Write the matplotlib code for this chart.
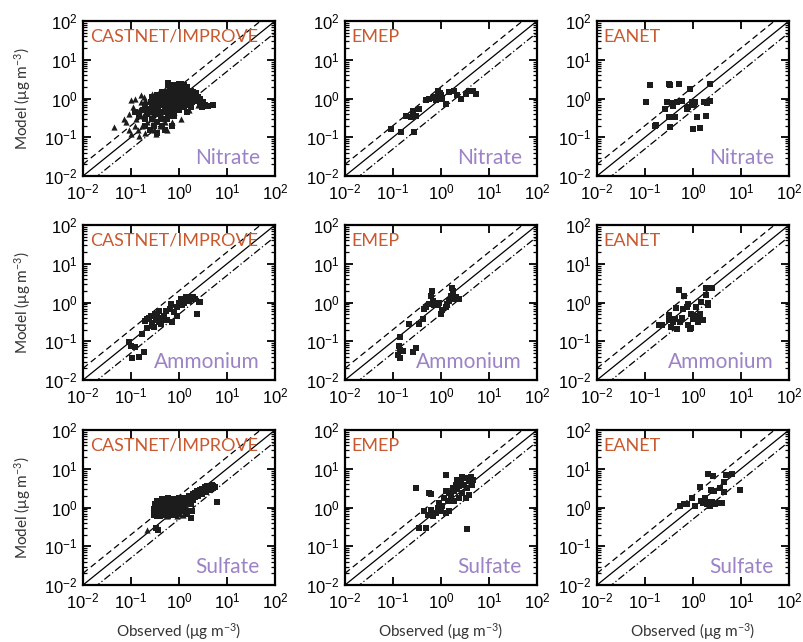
import matplotlib
matplotlib.use("Agg")
import matplotlib.pyplot as plt
import numpy as np

# ---------------- data (observed, model) in ug m-3 ----------------
NETWORKS = ["CASTNET/IMPROVE", "EMEP", "EANET"]
SPECIES = ["Nitrate", "Ammonium", "Sulfate"]

# nitrate
no3_castnet_sq = [(0.15, 0.35), (0.18, 0.5), (0.2, 0.7), (0.22, 0.4), (0.25, 0.55), (0.27, 0.3),
                  (0.3, 0.8), (0.3, 0.45), (0.33, 1.0), (0.35, 0.25), (0.36, 0.65), (0.4, 0.4),
                  (0.4, 1.2), (0.45, 0.7), (0.45, 0.2), (0.5, 1.0), (0.5, 0.5), (0.55, 1.4),
                  (0.55, 0.3), (0.6, 0.8), (0.6, 2.2), (0.65, 0.45), (0.7, 1.0), (0.7, 1.8),
                  (0.75, 0.6), (0.8, 1.3), (0.8, 0.35), (0.9, 0.9), (0.9, 1.6), (1.0, 1.2),
                  (1.0, 0.5), (1.1, 2.3), (1.2, 0.9), (1.2, 1.6), (1.3, 0.6), (1.4, 1.1),
                  (1.5, 2.0), (1.6, 0.8), (1.7, 1.3), (1.8, 0.6), (2.0, 1.5), (2.2, 0.9),
                  (2.5, 1.1), (2.8, 0.8), (3.0, 0.6), (3.5, 0.7), (5.0, 0.7), (4.0, 0.65),
                  (0.25, 0.15), (0.35, 0.13), (0.2, 0.2), (0.28, 1.1), (0.12, 0.45), (0.5, 0.15),
                  (0.7, 0.2), (1.5, 0.45), (0.38, 0.9), (0.65, 1.6), (1.0, 0.8), (0.85, 2.1),
                  (0.2, 0.3), (0.23, 0.5), (0.26, 0.8), (0.28, 0.6), (0.3, 0.2), (0.32, 0.4),
                  (0.34, 0.9), (0.37, 0.55), (0.4, 0.7), (0.42, 0.3), (0.44, 1.0), (0.47, 0.45),
                  (0.5, 0.75), (0.52, 1.2), (0.55, 0.55), (0.58, 1.0), (0.6, 0.35), (0.62, 1.4),
                  (0.66, 0.75), (0.7, 0.5), (0.72, 1.3), (0.75, 0.9), (0.8, 1.6), (0.82, 0.7),
                  (0.85, 1.1), (0.9, 0.55), (0.95, 1.4), (1.05, 0.65), (1.1, 1.3), (1.15, 1.8),
                  (1.2, 1.1), (1.3, 0.85), (1.35, 1.4), (1.45, 0.7), (1.55, 1.2), (1.7, 1.0),
                  (1.8, 1.6), (1.9, 0.8), (2.1, 1.2), (2.3, 1.4), (2.4, 0.85), (2.7, 1.0),
                  (3.2, 0.8), (0.6, 2.5), (0.75, 2.2), (1.0, 2.4), (1.3, 2.2), (0.45, 1.5),
                  (0.35, 1.2)]
no3_castnet_tri = [(0.045, 0.18), (0.08, 0.25), (0.09, 0.4), (0.1, 0.9), (0.12, 1.0), (0.11, 0.6),
                   (0.13, 0.3), (0.14, 0.15), (0.15, 0.5), (0.16, 0.8), (0.17, 0.2), (0.18, 0.35),
                   (0.19, 1.1), (0.2, 0.13), (0.21, 0.6), (0.22, 0.25), (0.24, 0.45), (0.25, 0.9),
                   (0.26, 0.17), (0.28, 1.3), (0.3, 0.3), (0.32, 0.7), (0.33, 0.12), (0.35, 0.5),
                   (0.38, 1.5), (0.4, 0.2), (0.42, 0.9), (0.45, 0.35), (0.5, 1.8), (0.55, 0.15),
                   (0.6, 0.6), (0.65, 1.2), (0.7, 0.25), (0.8, 0.45), (0.9, 2.0), (1.0, 0.8),
                   (1.1, 0.3), (1.3, 1.4), (1.6, 0.5), (2.0, 1.0), (2.5, 0.7), (3.0, 0.9),
                   (0.12, 0.2), (0.09, 0.15), (0.07, 0.3), (0.1, 0.12), (0.15, 0.11), (0.3, 0.15),
                   (0.5, 0.25), (0.2, 0.9), (0.16, 1.2)]
no3_emep = [(0.093, 0.165), (0.145, 0.14), (0.27, 0.14), (0.19, 0.36), (0.24, 0.33), (0.3, 0.36),
            (0.26, 0.49), (0.35, 0.54), (0.49, 0.89), (0.57, 1.0), (0.67, 1.05), (0.79, 0.9),
            (0.86, 1.6), (1.0, 1.2), (1.07, 1.0), (1.26, 0.72), (1.9, 1.6), (2.2, 1.2),
            (2.6, 0.95), (3.3, 1.3), (3.9, 1.6), (4.6, 1.55), (5.3, 1.3), (1.5, 1.45),
            (0.75, 1.1), (0.95, 1.4)]
no3_eanet = [(0.105, 0.8), (0.126, 2.2), (0.165, 0.19), (0.17, 0.21), (0.26, 0.54), (0.285, 0.8),
             (0.32, 2.4), (0.33, 2.2), (0.32, 0.33), (0.33, 0.18), (0.36, 0.75), (0.39, 0.65),
             (0.42, 0.33), (0.46, 0.8), (0.5, 2.4), (0.59, 0.85), (0.74, 0.54), (0.8, 0.62),
             (0.87, 1.8), (0.95, 0.8), (1.02, 0.165), (1.04, 0.7), (1.1, 0.8), (1.2, 0.33),
             (1.37, 0.17), (1.67, 0.8), (1.87, 0.35), (2.3, 2.4), (2.3, 0.85), (2.0, 0.78)]

# ammonium
nh4_castnet_sq = [(0.093, 0.095), (0.1, 0.075), (0.107, 0.036), (0.12, 0.07), (0.148, 0.04),
                  (0.19, 0.054), (0.17, 0.155), (0.22, 0.22), (0.2, 0.33), (0.24, 0.4),
                  (0.28, 0.3), (0.26, 0.45), (0.33, 0.35), (0.3, 0.23), (0.35, 0.45),
                  (0.38, 0.32), (0.45, 0.4), (0.53, 0.6), (0.57, 0.35), (0.66, 0.7),
                  (0.67, 0.93), (0.79, 0.58), (0.92, 0.76), (1.0, 1.0), (1.17, 0.86),
                  (1.08, 1.25), (1.26, 1.15), (1.37, 1.4), (1.6, 1.1), (1.75, 1.35),
                  (1.9, 1.2), (2.2, 1.2), (2.6, 1.05), (2.8, 1.05), (2.4, 0.51), (0.73, 0.32),
                  (0.38, 0.6), (0.49, 0.45), (0.9, 0.45), (0.22, 0.38), (0.27, 0.25),
                  (0.31, 0.5), (0.42, 0.28), (1.3, 0.95), (1.5, 1.25), (2.0, 1.4), (1.1, 1.05)]
nh4_emep = [(0.142, 0.13), (0.135, 0.074), (0.14, 0.06), (0.16, 0.055), (0.127, 0.043),
            (0.14, 0.037), (0.26, 0.054), (0.3, 0.068), (0.22, 0.28), (0.35, 0.28),
            (0.42, 0.37), (0.45, 0.69), (0.49, 0.75), (0.57, 0.93), (0.62, 1.5), (0.65, 2.0),
            (0.67, 1.1), (0.73, 0.85), (0.86, 0.85), (0.92, 1.0), (1.07, 0.63), (1.0, 0.5),
            (1.25, 0.75), (1.35, 0.9), (1.47, 1.1), (1.6, 1.5), (1.75, 2.0), (1.7, 2.4),
            (1.9, 1.2), (2.1, 1.35), (2.4, 1.25)]
nh4_eanet = [(0.2, 0.26), (0.23, 0.26), (0.31, 0.35), (0.31, 0.47), (0.34, 0.24), (0.39, 0.31),
             (0.42, 0.37), (0.46, 0.21), (0.44, 0.73), (0.52, 2.1), (0.54, 0.31), (0.58, 0.41),
             (0.61, 0.69), (0.66, 1.5), (0.75, 0.77), (0.8, 0.26), (0.8, 0.9), (0.87, 0.21),
             (0.92, 0.22), (0.92, 0.51), (1.0, 0.38), (1.15, 0.77), (1.2, 0.46), (1.3, 0.31),
             (1.4, 0.52), (1.5, 0.36), (1.6, 0.35), (1.5, 1.03), (1.9, 1.55), (1.9, 2.3),
             (2.1, 0.85), (2.5, 2.4), (2.1, 0.97)]

# sulfate
so4_castnet_sq = [(0.3, 0.65), (0.3, 0.9), (0.32, 1.2), (0.35, 0.7), (0.35, 1.5), (0.38, 1.0),
                  (0.4, 0.6), (0.4, 1.3), (0.42, 0.8), (0.45, 1.7), (0.45, 1.1), (0.5, 0.65),
                  (0.5, 0.9), (0.5, 1.4), (0.55, 1.2), (0.55, 0.75), (0.6, 1.8), (0.6, 1.0),
                  (0.6, 0.6), (0.65, 1.4), (0.7, 0.8), (0.7, 1.1), (0.75, 1.6), (0.8, 0.65),
                  (0.8, 1.2), (0.85, 1.0), (0.9, 1.5), (0.9, 0.8), (1.0, 1.2), (1.0, 0.7),
                  (1.0, 1.8), (1.1, 1.0), (1.2, 1.4), (1.2, 0.8), (1.3, 1.1), (1.4, 1.6),
                  (1.5, 1.3), (1.5, 0.7), (1.6, 2.0), (1.7, 1.5), (1.8, 1.2), (2.0, 2.2),
                  (2.0, 1.6), (2.2, 1.9), (2.4, 2.6), (2.5, 2.0), (2.7, 2.4), (3.0, 3.0),
                  (3.0, 2.2), (3.3, 2.7), (3.5, 3.3), (3.7, 2.5), (4.0, 3.0), (4.2, 3.6),
                  (4.5, 2.8), (5.0, 3.2), (5.5, 3.4), (4.8, 3.7), (3.8, 3.5), (2.8, 2.9),
                  (2.2, 2.4), (1.3, 1.8), (1.1, 1.6), (0.8, 1.7), (0.65, 0.7), (0.45, 0.65),
                  (0.35, 0.6), (6.2, 1.4), (0.33, 0.3), (0.36, 0.27), (1.74, 0.55), (1.9, 0.82),
                  (0.79, 0.65), (0.32, 0.75), (0.37, 0.85), (0.42, 1.0), (0.47, 1.25), (0.52, 1.0),
                  (0.57, 0.9), (0.62, 1.2), (0.67, 1.0), (0.72, 1.35), (0.77, 0.9), (0.82, 1.4),
                  (0.87, 1.2), (0.95, 1.0), (1.05, 1.4), (1.15, 1.2), (1.25, 1.6), (1.35, 1.3),
                  (1.6, 1.6), (1.9, 1.8), (2.1, 2.0), (2.3, 2.2), (2.6, 2.3), (2.9, 2.6),
                  (3.2, 3.0), (3.6, 2.9), (4.1, 3.3), (4.6, 3.2), (5.2, 3.5), (0.4, 1.5),
                  (0.5, 1.6), (0.7, 1.5), (0.33, 1.0)]
so4_castnet_tri = [(0.22, 0.27), (0.4, 0.7), (0.55, 0.6), (0.9, 0.6), (1.2, 0.65), (0.35, 0.75),
                   (0.3, 0.8), (0.6, 0.85), (1.5, 1.0)]
so4_emep = [(0.3, 3.2), (0.35, 0.29), (0.49, 0.29), (0.55, 2.3), (0.62, 2.2), (3.5, 0.28),
            (1.26, 7.0), (0.45, 0.8), (0.53, 0.65), (0.62, 0.88), (0.67, 0.6), (0.79, 0.72),
            (0.85, 0.97), (0.92, 1.3), (1.0, 0.8), (1.07, 1.07), (1.26, 0.72), (1.48, 0.8),
            (1.37, 1.45), (1.17, 1.8), (1.26, 2.6), (1.48, 2.4), (1.6, 2.0), (1.75, 3.2),
            (1.9, 2.6), (2.05, 3.9), (2.2, 3.0), (2.4, 3.6), (2.6, 4.7), (2.8, 2.4),
            (3.0, 3.9), (3.3, 5.7), (3.5, 3.2), (3.8, 4.7), (4.2, 6.2), (4.5, 3.9),
            (3.8, 2.1), (3.3, 1.8), (2.4, 1.8), (1.9, 1.5), (4.7, 5.2), (2.8, 6.0), (2.2, 5.2)]
so4_eanet = [(0.54, 1.1), (0.64, 1.2), (0.74, 1.25), (0.96, 1.8), (1.1, 1.07), (1.37, 3.3),
             (1.5, 1.5), (1.65, 1.3), (1.8, 1.75), (1.95, 1.2), (2.05, 7.4), (2.1, 1.4),
             (2.3, 1.07), (2.4, 2.9), (2.6, 6.5), (2.7, 2.6), (2.9, 1.2), (3.4, 1.3),
             (3.7, 3.1), (4.0, 1.3), (4.4, 4.6), (4.5, 2.5), (4.8, 6.9), (6.5, 7.4),
             (9.4, 2.9), (2.5, 1.4)]

PANELS = [
    [(no3_castnet_sq, no3_castnet_tri), (no3_emep, []), (no3_eanet, [])],
    [(nh4_castnet_sq, []), (nh4_emep, []), (nh4_eanet, [])],
    [(so4_castnet_sq, so4_castnet_tri), (so4_emep, []), (so4_eanet, [])],
]

LIM = (1e-2, 1e2)
NET_COLOR = "#c9592f"
SPC_COLOR = "#9c82c6"
PT_COLOR = "#1c1c1c"

plt.rcParams["font.family"] = ["Liberation Sans", "DejaVu Sans"]
plt.rcParams["mathtext.default"] = "regular"

W, H = 804, 642
fig = plt.figure(figsize=(W / 100, H / 100), dpi=100)

col_left = [83, 345, 597]
row_top = [21, 225, 430]
ax_w, ax_h = 192, 155

for r in range(3):
    for c in range(3):
        ax = fig.add_axes([col_left[c] / W, 1 - (row_top[r] + ax_h) / H, ax_w / W, ax_h / H])
        ax.set_xscale("log")
        ax.set_yscale("log")
        ax.set_xlim(LIM)
        ax.set_ylim(LIM)

        xs = np.array(LIM)
        ax.plot(xs, xs, color="black", lw=0.9)
        ax.plot(xs, xs * 2, color="black", lw=0.9, ls=(0, (5, 3)))
        ax.plot(xs, xs / 2, color="black", lw=0.9, ls=(0, (6, 2, 1, 2)))

        sq, tri = PANELS[r][c]
        sq = np.array(sq)
        ax.scatter(sq[:, 0], sq[:, 1], marker="s", s=14, color=PT_COLOR, lw=0, zorder=3)
        if len(tri):
            tri = np.array(tri)
            ax.scatter(tri[:, 0], tri[:, 1], marker="^", s=20, color=PT_COLOR, lw=0, zorder=3)

        ax.text(0.035, 0.95, NETWORKS[c], transform=ax.transAxes, ha="left", va="top",
                color=NET_COLOR, fontsize=13, fontfamily="Lato")
        ax.text(0.92, 0.05, SPECIES[r], transform=ax.transAxes, ha="right", va="bottom",
                color=SPC_COLOR, fontsize=15, fontfamily="Lato")

        for s in ax.spines.values():
            s.set_linewidth(1.6)
        ax.tick_params(which="both", direction="in", top=True, right=True, labelsize=12)
        ax.tick_params(which="major", length=6, width=1.3)
        ax.tick_params(which="minor", length=3, width=0.9)
        ax.tick_params(axis="x", which="major", pad=5)
        ax.tick_params(axis="y", which="major", pad=4)
        ax.set_xticks([1e-2, 1e-1, 1e0, 1e1, 1e2])
        ax.set_yticks([1e-2, 1e-1, 1e0, 1e1, 1e2])

        if c == 0:
            ax.set_ylabel("Model (\u03bcg m$^{-3}$)", fontfamily="Lato", fontsize=11,
                          color="#333333", labelpad=8)
        if r == 2:
            ax.set_xlabel("Observed (\u03bcg m$^{-3}$)", fontfamily="Lato", fontsize=11,
                          color="#333333", labelpad=7)

fig.savefig("out.png", dpi=100)
